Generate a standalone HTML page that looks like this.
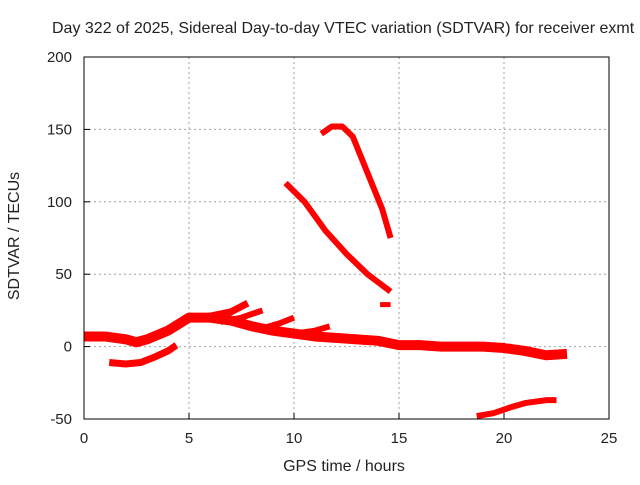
<!DOCTYPE html>
<html><head><meta charset="utf-8"><style>
body{margin:0;background:#fff}
svg text{font-family:"Liberation Sans",sans-serif;fill:#222}
</style></head><body>
<svg width="640" height="480" xmlns="http://www.w3.org/2000/svg">
<g id="grid"></g>
<g id="series"></g>
<rect x="84" y="57" width="525" height="362" fill="none" stroke="#000" stroke-width="1"/>
<g id="ticks"></g>
<text x="52" y="33" font-size="16" text-anchor="start">Day 322 of 2025, Sidereal Day-to-day VTEC variation (SDTVAR) for receiver exmt</text>
<text x="344" y="471" font-size="16" text-anchor="middle">GPS time / hours</text>
<text x="19" y="236" font-size="16" text-anchor="middle" transform="rotate(-90 19 236)">SDTVAR / TECUs</text>
</svg>
<script>
const xTicks=[0,5,10,15,20,25];
const yTicks=[-50,0,50,100,150,200];
const seriesMainH=[0,1,2,2.5,3,4,5,6,7,8,9,10,11,12,13,14,15,16,17,18,19,20,21,22,23];
const seriesMainV=[7,7,5,3,5,11,20,20,18,14,11,9,7,6,5,4,1,1,0,0,0,-1,-3,-6,-5];
const seriesLowH=[1.2,2,2.7,3.4,4,4.4];
const seriesLowV=[-11,-12,-11,-7,-3,1];
const seriesBr1H=[5,6,7,7.8];
const seriesBr1V=[19,21,24,30];
const seriesBr2H=[6.5,7.5,8.5];
const seriesBr2V=[17,20,25];
const seriesBr3H=[8.6,9.3,10];
const seriesBr3V=[13,16,20];
const seriesBr4H=[10,11,11.7];
const seriesBr4V=[9,11,14];
const seriesDH=[9.6,10.5,11.5,12.5,13.5,14.6];
const seriesDV=[113,100,80,64,50,38];
const seriesEH=[11.3,11.8,12.3,12.8,13.5,14.2,14.6];
const seriesEV=[147,152,152,145,120,95,75];
const seriesFH=[14.1,14.6];
const seriesFV=[29,29];
const seriesGH=[18.7,19.5,20.3,21,22,22.5];
const seriesGV=[-48,-46,-42,-39,-37,-37];
const NS="http://www.w3.org/2000/svg";
const X=h=>84+h*21, Y=v=>419-(v+50)*1.448;
const grid=document.getElementById('grid'),ticks=document.getElementById('ticks'),ser=document.getElementById('series');
function mk(t,a,p){const e=document.createElementNS(NS,t);for(const k in a)e.setAttribute(k,a[k]);p.appendChild(e);return e;}
xTicks.forEach(t=>{
  if(t>0&&t<25){const g=mk('line',{x1:X(t),x2:X(t),y1:57,y2:419,stroke:'#a0a0a0','stroke-dasharray':'2,3'},grid);
  
  }
  const l=mk('line',{x1:X(t),x2:X(t),y1:419,y2:413,stroke:'#000'},ticks);
  
  
  const tx=mk('text',{x:X(t),y:443,'font-size':15,'text-anchor':'middle'},ticks);tx.textContent=t;
  
  
});
yTicks.forEach(t=>{
  if(t>-50&&t<200){const g=mk('line',{x1:84,x2:609,y1:Y(t),y2:Y(t),stroke:'#a0a0a0','stroke-dasharray':'2,3'},grid);
  
  }
  const l=mk('line',{x1:84,x2:90,y1:Y(t),y2:Y(t),stroke:'#000'},ticks);
  
  
  const tx=mk('text',{x:72,y:Y(t)+5,'font-size':15,'text-anchor':'end'},ticks);tx.textContent=t;
  
  
});
function draw(H,V,name,w){
  const pts=H.map((h,i)=>X(h)+','+Y(V[i])).join(' ');
  const p=mk('polyline',{points:pts,fill:'none',stroke:'#f00','stroke-width':w,'stroke-linejoin':'round'},ser);
  
  
}
draw(seriesMainH,seriesMainV,'series-main',10);
draw(seriesLowH,seriesLowV,'series-low',7);
draw(seriesBr1H,seriesBr1V,'series-branch-1',7);
draw(seriesBr2H,seriesBr2V,'series-branch-2',6);
draw(seriesBr3H,seriesBr3V,'series-branch-3',6);
draw(seriesBr4H,seriesBr4V,'series-branch-4',6);
draw(seriesDH,seriesDV,'series-d',6);
draw(seriesEH,seriesEV,'series-e',6);
draw(seriesFH,seriesFV,'series-f',5);
draw(seriesGH,seriesGV,'series-g',6);
</script>
</body></html>
